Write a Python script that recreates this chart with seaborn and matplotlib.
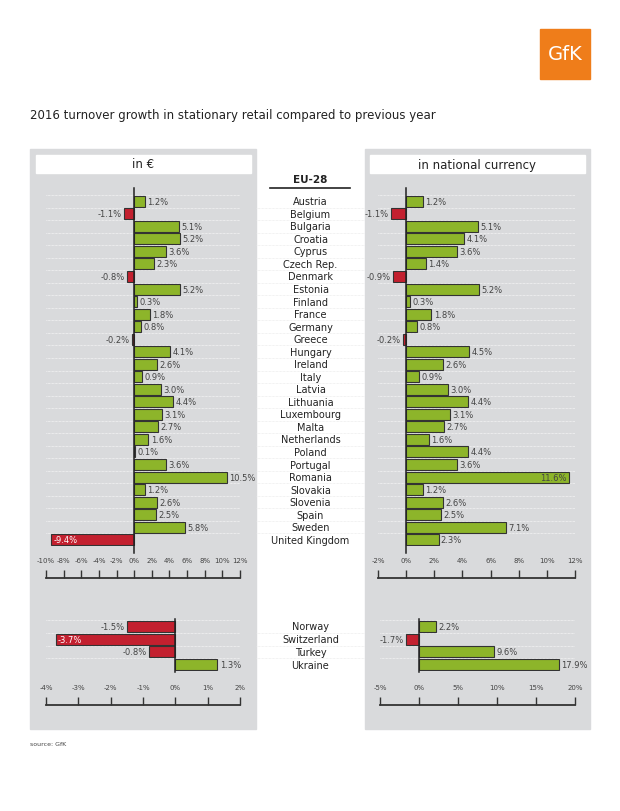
import numpy as np
import pandas as pd
import matplotlib
matplotlib.use("Agg")
import matplotlib.pyplot as plt
import matplotlib.patches as mpatches
import seaborn as sns

# ── Data ──────────────────────────────────────────────────────────────────────
eu_countries = ["Austria", "Belgium", "Bulgaria", "Croatia", "Cyprus", "Czech Rep.",
                "Denmark", "Estonia", "Finland", "France", "Germany", "Greece",
                "Hungary", "Ireland", "Italy", "Latvia", "Lithuania", "Luxembourg",
                "Malta", "Netherlands", "Poland", "Portugal", "Romania", "Slovakia",
                "Slovenia", "Spain", "Sweden", "United Kingdom"]
eu_euro = [1.2, -1.1, 5.1, 5.2, 3.6, 2.3, -0.8, 5.2, 0.3, 1.8, 0.8, -0.2, 4.1, 2.6,
           0.9, 3.0, 4.4, 3.1, 2.7, 1.6, 0.1, 3.6, 10.5, 1.2, 2.6, 2.5, 5.8, -9.4]
eu_national = [1.2, -1.1, 5.1, 4.1, 3.6, 1.4, -0.9, 5.2, 0.3, 1.8, 0.8, -0.2, 4.5, 2.6,
               0.9, 3.0, 4.4, 3.1, 2.7, 1.6, 4.4, 3.6, 11.6, 1.2, 2.6, 2.5, 7.1, 2.3]
other_countries = ["Norway", "Switzerland", "Turkey", "Ukraine"]
other_euro = [-1.5, -3.7, -0.8, 1.3]
other_national = [2.2, -1.7, 9.6, 17.9]

eu_ticks_euro = [-10, -8, -6, -4, -2, 0, 2, 4, 6, 8, 10, 12]
eu_ticks_nat = [-2, 0, 2, 4, 6, 8, 10, 12]
other_ticks_euro = [-4, -3, -2, -1, 0, 1, 2]
other_ticks_nat = [-5, 0, 5, 10, 15, 20]

GREEN = "#8db52a"
RED = "#c3202f"
PANEL = "#d9dadc"
TXT = "#444444"

W, H = 620, 812
fig = plt.figure(figsize=(6.2, 8.12), dpi=100)


def box(x0, y0, x1, y1):
    """pixel box (top-left origin) -> fig rect"""
    return [x0 / W, 1 - y1 / H, (x1 - x0) / W, (y1 - y0) / H]


# background panels
for x0, x1 in [(30, 256), (365, 590)]:
    fig.patches.append(mpatches.Rectangle((x0 / W, 1 - 730 / H), (x1 - x0) / W, 580 / H,
                                          transform=fig.transFigure, color=PANEL, zorder=-2))
for x0, x1, label in [(36, 251, "in €"), (370, 585, "in national currency")]:
    fig.patches.append(mpatches.Rectangle((x0 / W, 1 - 174 / H), (x1 - x0) / W, 18 / H,
                                          transform=fig.transFigure, color="white", zorder=-1))
    fig.text((x0 + x1) / 2 / W, 1 - 165 / H, label, ha="center", va="center",
             fontsize=8.5, color="#222222")


def bars(rect, names, values, xlim, ticks, scale_rect, inside=()):
    ax = fig.add_axes(box(*rect))
    df = pd.DataFrame({"country": names, "value": values,
                       "sign": ["pos" if v >= 0 else "neg" for v in values]})
    sns.barplot(data=df, y="country", x="value", hue="sign", orient="h", ax=ax,
                palette={"pos": GREEN, "neg": RED}, width=0.88, edgecolor="#333333",
                linewidth=0.8, legend=False, dodge=False, saturation=1)
    ax.set_xlim(*xlim)
    ax.set_ylim(len(names) - 0.5, -0.5)
    ax.axis("off")
    ax.axvline(0, color="#222222", lw=1.1, ymin=-0.02, ymax=1.02, clip_on=False)
    for i in range(len(names) + 1):
        ax.axhline(i - 0.5, color="white", lw=0.5, ls=(0, (1, 1)), zorder=0)
    pad = (xlim[1] - xlim[0]) * 0.012
    for i, v in enumerate(values):
        s = f"{v:.1f}%"
        if i in inside:
            if v < 0:
                ax.text(v + pad, i, s, ha="left", va="center", fontsize=6, color="white")
            else:
                ax.text(v - pad, i, s, ha="right", va="center", fontsize=6, color=TXT)
        elif v >= 0:
            ax.text(v + pad, i, s, ha="left", va="center", fontsize=6, color=TXT)
        else:
            ax.text(v - pad, i, s, ha="right", va="center", fontsize=6, color=TXT)
    # scale below
    sx = fig.add_axes(box(*scale_rect))
    sx.set_xlim(*xlim)
    sx.set_facecolor("none")
    for sp in ["top", "left", "right"]:
        sx.spines[sp].set_visible(False)
    sx.spines["bottom"].set_linewidth(1.3)
    sx.spines["bottom"].set_color("#333333")
    sx.spines["bottom"].set_bounds(ticks[0], ticks[-1])
    sx.set_yticks([])
    sx.set_xticks(ticks)
    sx.set_xticklabels([f"{t}%" for t in ticks])
    sx.tick_params(axis="x", direction="in", length=6, width=1, color="#333333",
                   labelbottom=False, labeltop=True, top=False, bottom=True,
                   labelsize=5, labelcolor=TXT, pad=4)
    return ax


bars((46, 196, 240, 547), eu_countries, eu_euro, (-10, 12), eu_ticks_euro,
     (46, 570, 240, 579), inside=(27,))
bars((378, 196, 575, 547), eu_countries, eu_national, (-2, 12), eu_ticks_nat,
     (378, 570, 575, 579), inside=(22,))
bars((46, 621, 240, 672), other_countries, other_euro, (-4, 2), other_ticks_euro,
     (46, 697, 240, 706), inside=(1,))
bars((380, 621, 575, 672), other_countries, other_national, (-5, 20), other_ticks_nat,
     (380, 697, 575, 706))

# center names
for rect, names in [((256, 196, 365, 547), eu_countries), ((256, 621, 365, 672), other_countries)]:
    cx = fig.add_axes(box(*rect))
    cx.set_xlim(0, 1)
    cx.set_ylim(len(names) - 0.5, -0.5)
    cx.axis("off")
    for i, n in enumerate(names):
        cx.text(0.5, i, n, ha="center", va="center", fontsize=7, color="#222222")
        cx.axhline(i + 0.5, color="#e6e6e6", lw=0.5, ls=(0, (1, 1)))

fig.text(310 / W, 1 - 180 / H, "EU-28", ha="center", va="center", fontsize=7.5,
         fontweight="bold", color="#222222")
fig.add_artist(plt.Line2D([270 / W, 350 / W], [1 - 189 / H] * 2, color="#222222", lw=1.2))

fig.text(30 / W, 1 - 115 / H, "2016 turnover growth in stationary retail compared to previous year",
         ha="left", va="center", fontsize=8.5, color="#222222")
fig.text(30 / W, 1 - 745 / H, "source: GfK", ha="left", va="center", fontsize=4.5, color=TXT)

# logo
fig.patches.append(mpatches.Rectangle((540 / W, 1 - 80 / H), 50 / W, 50 / H,
                                      transform=fig.transFigure, color="#ef7d1a", zorder=2))
fig.text(565 / W, 1 - 55 / H, "GfK", ha="center", va="center", fontsize=14,
         color="white", zorder=3)

fig.savefig("out.png", dpi=100)
